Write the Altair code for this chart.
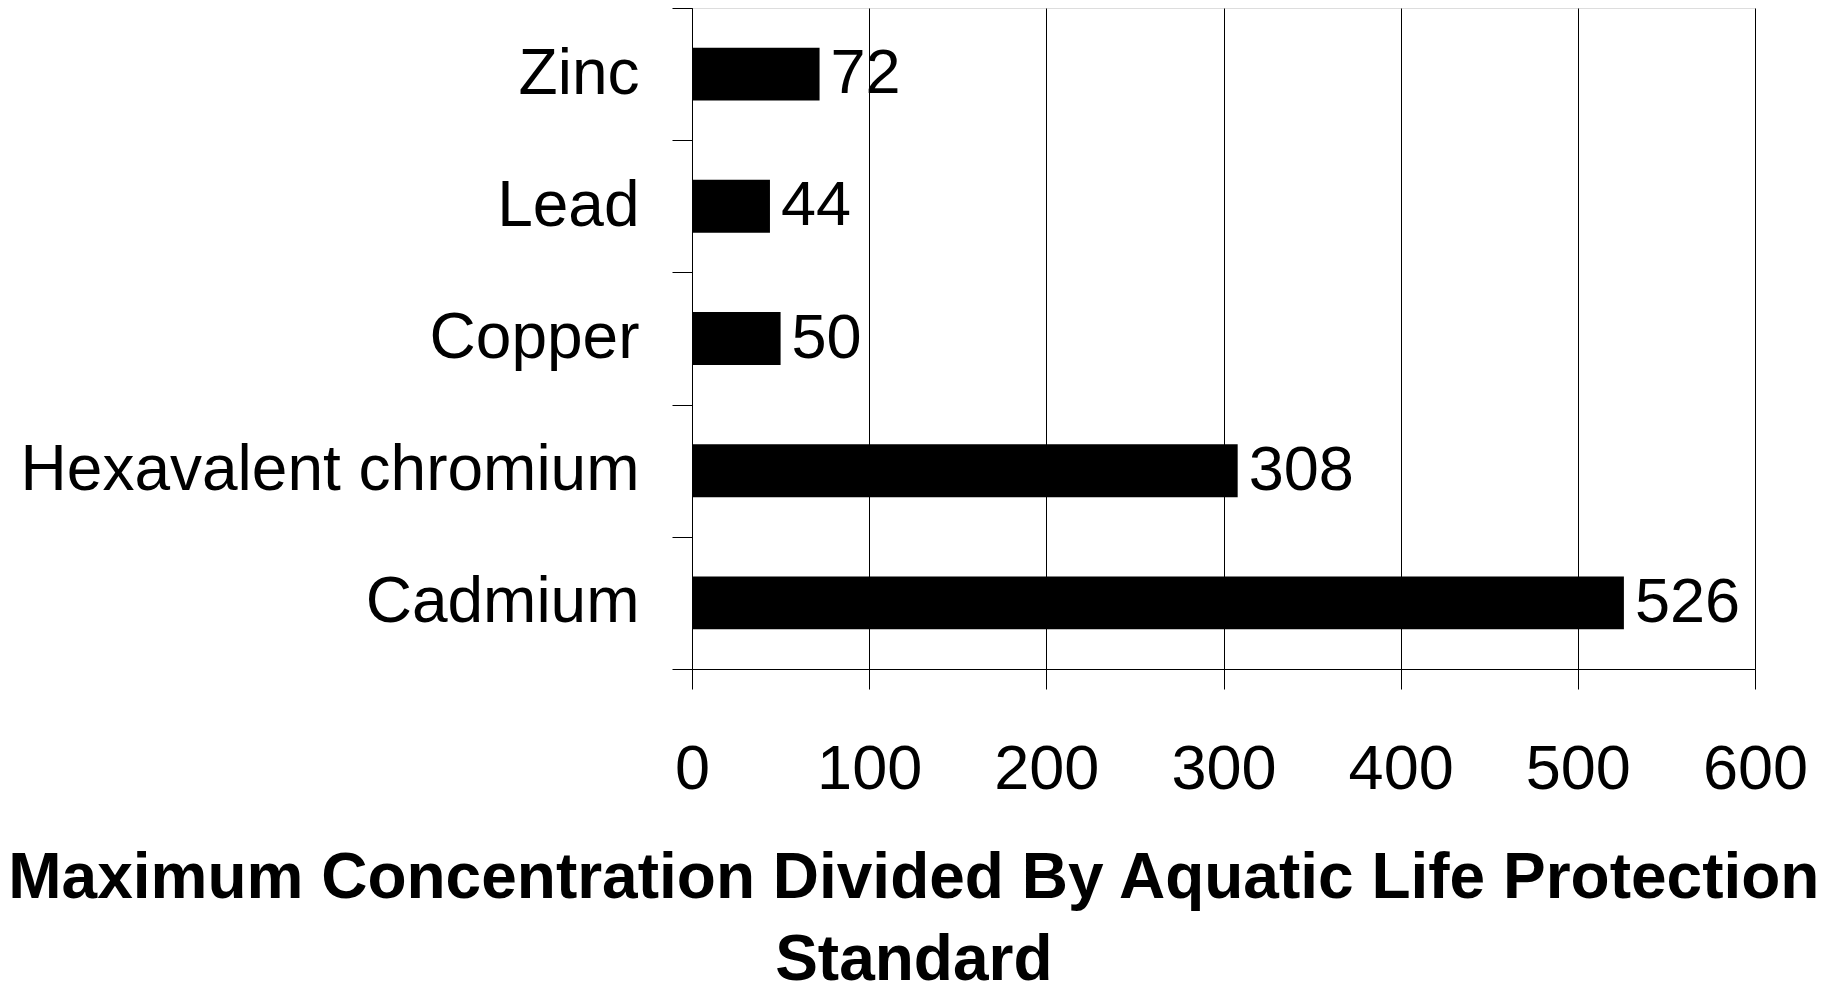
import altair as alt
import pandas as pd

metals = ["Zinc", "Lead", "Copper", "Hexavalent chromium", "Cadmium"]
ratios = [72, 44, 50, 308, 526]
x_ticks = [0, 100, 200, 300, 400, 500, 600]
title_lines = ["Maximum Concentration Divided By Aquatic Life Protection", "Standard"]

df = pd.DataFrame({"metal": metals, "ratio": ratios})
FONT = "Liberation Sans"

y_enc = alt.Y(
    "metal:N",
    sort=metals,
    title=None,
    scale=alt.Scale(paddingInner=0, paddingOuter=0),
    axis=alt.Axis(
        tickBand="extent",
        tickSize=20,
        tickColor="black",
        domainColor="black",
        labelPadding=33,
        labelFont=FONT,
        labelFontSize=64,
        labelColor="black",
        labelLimit=0,
        grid=False,
    ),
)
x_enc = alt.X(
    "ratio:Q",
    title=None,
    scale=alt.Scale(domain=[0, 600], nice=False),
    axis=alt.Axis(
        values=x_ticks,
        tickSize=20,
        tickColor="black",
        domainColor="black",
        labelPadding=49,
        labelFont=FONT,
        labelFontSize=63,
        labelColor="black",
        labelFlush=False,
        grid=True,
        gridColor="black",
        gridWidth=1,
        gridOpacity=1,
    ),
)

bars = alt.Chart(df).mark_bar(color="black", height={"band": 0.4}).encode(x=x_enc, y=y_enc)
labels = alt.Chart(df).mark_text(
    align="left", baseline="middle", dx=11, font=FONT, fontSize=63, color="black"
).encode(x="ratio:Q", y=alt.Y("metal:N", sort=metals), text="ratio:Q")

chart = (
    alt.layer(bars, labels)
    .properties(
        width=1063,
        height=661,
        autosize=alt.AutoSizeParams(type="none"),
        padding={"left": 684, "top": 0, "right": 70, "bottom": 314},
        title=alt.TitleParams(
            text=title_lines,
            orient="bottom",
            anchor="middle",
            frame="bounds",
            font=FONT,
            fontSize=64,
            fontWeight="bold",
            color="black",
            lineHeight=82,
            offset=46,
        ),
    )
    .configure_view(stroke="#888888", strokeWidth=1)
    .configure(background="white")
)

chart.save("out.html", embed_options={"renderer": "svg", "actions": False})
